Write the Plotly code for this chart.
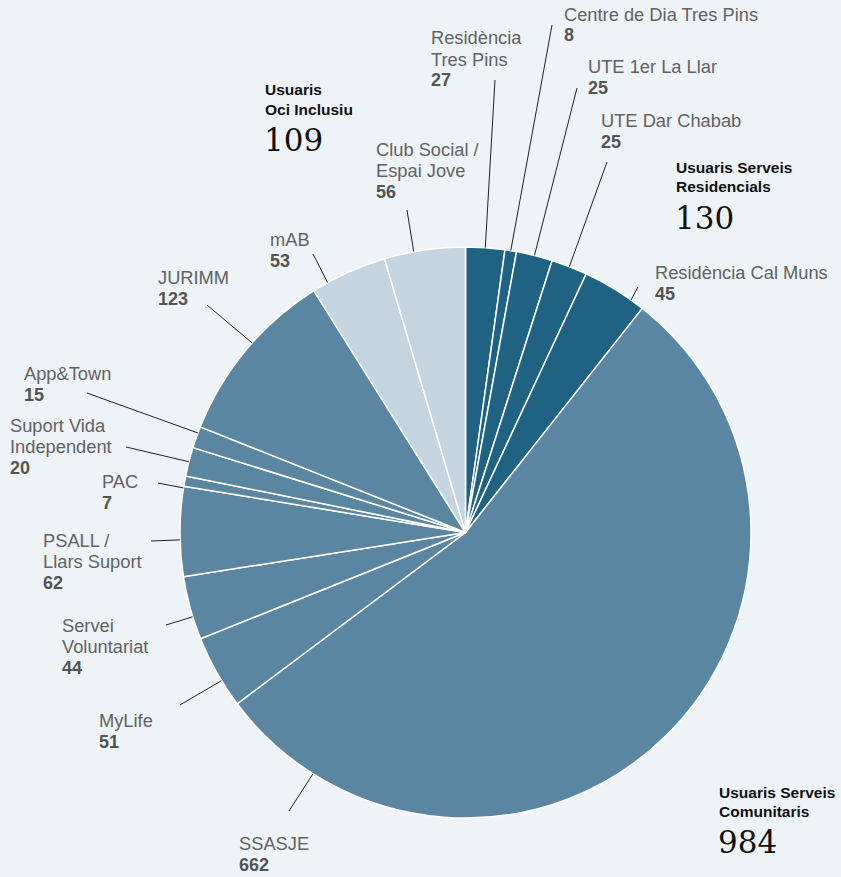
import math
import plotly.graph_objects as go

# ---------------- data ----------------
labels = ["Residència Tres Pins", "Centre de Dia Tres Pins", "UTE 1er La Llar",
          "UTE Dar Chabab", "Residència Cal Muns", "SSASJE", "MyLife",
          "Servei Voluntariat", "PSALL / Llars Suport", "PAC",
          "Suport Vida Independent", "App&Town", "JURIMM", "mAB",
          "Club Social / Espai Jove"]
values = [27, 8, 25, 25, 45, 662, 51, 44, 62, 7, 20, 15, 123, 53, 56]
groups = ["res"] * 5 + ["com"] * 8 + ["oci"] * 2
# label text as displayed (line breaks)
label_lines = {
    "Residència Tres Pins": ["Residència", "Tres Pins"],
    "Centre de Dia Tres Pins": ["Centre de Dia Tres Pins"],
    "UTE 1er La Llar": ["UTE 1er La Llar"],
    "UTE Dar Chabab": ["UTE Dar Chabab"],
    "Residència Cal Muns": ["Residència Cal Muns"],
    "SSASJE": ["SSASJE"],
    "MyLife": ["MyLife"],
    "Servei Voluntariat": ["Servei", "Voluntariat"],
    "PSALL / Llars Suport": ["PSALL /", "Llars Suport"],
    "PAC": ["PAC"],
    "Suport Vida Independent": ["Suport Vida", "Independent"],
    "App&Town": ["App&Town"],
    "JURIMM": ["JURIMM"],
    "mAB": ["mAB"],
    "Club Social / Espai Jove": ["Club Social /", "Espai Jove"],
}
group_titles = {
    "res": ["Usuaris Serveis", "Residencials"],
    "com": ["Usuaris Serveis", "Comunitaris"],
    "oci": ["Usuaris", "Oci Inclusiu"],
}

# ---------------- style / layout ----------------
W, H = 841, 877
BG = "#eef3f8"
COLORS = {"res": "#206282", "com": "#5a86a1", "oci": "#c4d5e1"}
CX, CY, R = 465.5, 532.5, 285.5
SANS = "Liberation Sans, Arial, Helvetica, sans-serif"
SERIF = "DejaVu Serif, Georgia, serif"
NAME_COLOR = "#626262"
NUM_COLOR = "#545454"
NAME_SIZE = 18.3
NUM_SIZE = 18
LINE_H = 21

# label placement: left x, first-line centre y (px), leader end (px), angle nudge (deg)
label_layout = {
    "Residència Tres Pins": dict(x=430, y=38, end=(495, 80), nudge=0),
    "Centre de Dia Tres Pins": dict(x=563, y=14.5, end=(552, 25), nudge=0),
    "UTE 1er La Llar": dict(x=587, y=66.5, end=(577, 88), nudge=0),
    "UTE Dar Chabab": dict(x=600, y=121, end=(607, 162), nudge=0),
    "Residència Cal Muns": dict(x=654, y=272.5, end=(638, 287), nudge=3.8),
    "SSASJE": dict(x=238, y=843.5, end=(289, 811), nudge=76.6),
    "MyLife": dict(x=98, y=720.5, end=(180, 705), nudge=-1.9),
    "Servei Voluntariat": dict(x=61, y=625.5, end=(166, 625), nudge=-1.8),
    "PSALL / Llars Suport": dict(x=42, y=540.5, end=(151, 541), nudge=-1.7),
    "PAC": dict(x=101, y=481.5, end=(158, 483), nudge=-1.4),
    "Suport Vida Independent": dict(x=9, y=425.5, end=(126, 447), nudge=0),
    "App&Town": dict(x=23, y=373.5, end=(87, 393), nudge=0.9),
    "JURIMM": dict(x=157, y=277.5, end=(207, 305), nudge=1.8),
    "mAB": dict(x=269, y=239.5, end=(313, 254), nudge=-4.6),
    "Club Social / Espai Jove": dict(x=375, y=149.5, end=(407, 210), nudge=-2.2),
}
group_layout = {
    "res": dict(x=675, y=167, num_y=218),
    "com": dict(x=718, y=792, num_y=842),
    "oci": dict(x=264, y=90, num_y=140),
}


def px(x):
    return x / W


def py(y):
    return 1 - y / H


fig = go.Figure(go.Pie(
    labels=labels, values=values, sort=False, direction="clockwise", rotation=0,
    marker=dict(colors=[COLORS[g] for g in groups], line=dict(color="white", width=1.5)),
    textinfo="none", hoverinfo="label+value", showlegend=False,
    domain=dict(x=[px(CX - R), px(CX + R)], y=[py(CY + R), py(CY - R)]),
))

annotations = []
shapes = []
total = sum(values)
cum = 0
for lab, val in zip(labels, values):
    mid = (cum + val / 2) / total * 360
    cum += val
    cfg = label_layout[lab]
    th = math.radians(mid + cfg["nudge"])
    sx, sy = CX + R * math.sin(th), CY - R * math.cos(th)
    ex, ey = cfg["end"]
    shapes.append(dict(type="line", xref="paper", yref="paper",
                       x0=px(sx), y0=py(sy), x1=px(ex), y1=py(ey),
                       line=dict(color="#222222", width=1)))
    lines = label_lines[lab]
    for i, t in enumerate(lines):
        annotations.append(dict(
            x=px(cfg["x"]), y=py(cfg["y"] + i * LINE_H), xref="paper", yref="paper",
            xanchor="left", yanchor="middle", showarrow=False, borderpad=0,
            text=t.replace("&", "&amp;"),
            font=dict(family=SANS, size=NAME_SIZE, color=NAME_COLOR)))
    annotations.append(dict(
        x=px(cfg["x"]), y=py(cfg["y"] + len(lines) * LINE_H), xref="paper", yref="paper",
        xanchor="left", yanchor="middle", showarrow=False, borderpad=0,
        text=f"<b>{val}</b>", font=dict(family=SANS, size=NUM_SIZE, color=NUM_COLOR)))

for g, cfg in group_layout.items():
    gsum = sum(v for v, gg in zip(values, groups) if gg == g)
    for i, t in enumerate(group_titles[g]):
        annotations.append(dict(
            x=px(cfg["x"]), y=py(cfg["y"] + i * 19.5), xref="paper", yref="paper",
            xanchor="left", yanchor="middle", showarrow=False, borderpad=0,
            text=f"<b>{t}</b>", font=dict(family=SANS, size=15.5, color="#111111")))
    annotations.append(dict(
        x=px(cfg["x"] - 1), y=py(cfg["num_y"]), xref="paper", yref="paper",
        xanchor="left", yanchor="middle", showarrow=False, borderpad=0,
        text=str(gsum), font=dict(family=SERIF, size=31, color="#111111")))

fig.update_layout(
    width=W, height=H, margin=dict(l=0, r=0, t=0, b=0, pad=0),
    paper_bgcolor=BG, plot_bgcolor=BG,
    annotations=annotations, shapes=shapes,
)

fig.write_html("out.html")
